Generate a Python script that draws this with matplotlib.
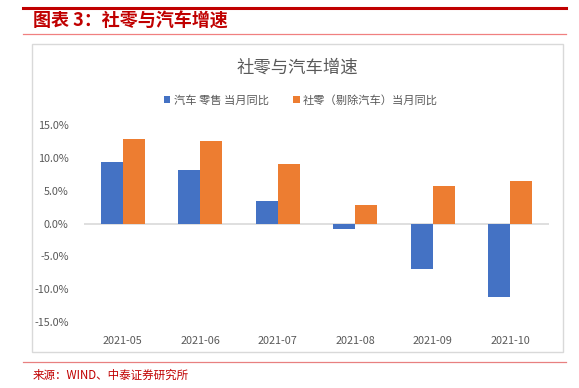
import matplotlib
matplotlib.use("Agg")
import matplotlib.pyplot as plt
from matplotlib.patches import Rectangle
from matplotlib.lines import Line2D
from matplotlib.ticker import FuncFormatter
import numpy as np

plt.rcParams['font.family'] = ['Noto Sans CJK SC', 'DejaVu Sans']

categories = ["2021-05", "2021-06", "2021-07", "2021-08", "2021-09", "2021-10"]
auto_retail = [9.4, 8.1, 3.4, -0.9, -6.9, -11.2]
retail_ex_auto = [12.8, 12.5, 9.0, 2.8, 5.7, 6.5]
series_names = ["汽车 零售 当月同比", "社零（剔除汽车）当月同比"]
yticks = [-15, -10, -5, 0, 5, 10, 15]

W, H = 579, 388
fig = plt.figure(figsize=(W / 100, H / 100), dpi=100)

def fx(px):
    return px / W

def fy(py):
    return 1 - py / H

red = "#C00000"
gray = "#595959"

# Header lines
fig.add_artist(Line2D([fx(23), fx(566)], [fy(8), fy(8)], color="#C00000", lw=2.2))
fig.add_artist(Line2D([fx(23), fx(566)], [fy(34), fy(34)], color="#F08080", lw=0.9))
fig.text(fx(33), fy(21), "图表 3：社零与汽车增速", color=red, fontsize=13,
         fontweight="bold", style="italic", va="center", ha="left")

# Footer
fig.add_artist(Line2D([fx(23), fx(566)], [fy(362), fy(362)], color="#E88080", lw=0.9))
fig.text(fx(33), fy(375), "来源：WIND、中泰证券研究所", color=red, fontsize=8.3,
         va="center", ha="left")

# Chart box
fig.add_artist(Rectangle((fx(32), fy(352)), fx(563) - fx(32), fy(44) - fy(352),
                         transform=fig.transFigure, fill=False, edgecolor="#D9D9D9", lw=1))

fig.text(fx(297), fy(68), "社零与汽车增速", color=gray, fontsize=12.5, ha="center", va="center")

ax = fig.add_axes([fx(84), fy(322), fx(549) - fx(84), fy(125) - fy(322)])
x = np.arange(len(categories))
w = 0.284
b1 = ax.bar(x - w / 2, auto_retail, w, color="#4472C4", label=series_names[0], zorder=3)
b2 = ax.bar(x + w / 2, retail_ex_auto, w, color="#ED7D31", label=series_names[1], zorder=3)
ax.axhline(0, color="#D9D9D9", lw=1.2, zorder=2)
ax.set_xlim(-0.5, len(categories) - 0.5)
ax.set_ylim(-15, 15)
ax.set_yticks(yticks)
ax.yaxis.set_major_formatter(FuncFormatter(lambda v, p: f"{v:.1f}%"))
ax.set_xticks(x)
ax.set_xticklabels(categories)
for s in ax.spines.values():
    s.set_visible(False)
ax.tick_params(axis="both", length=0, labelsize=7.8, colors=gray)
ax.tick_params(axis="x", pad=10)
ax.tick_params(axis="y", pad=11)
ax.set_facecolor("none")

leg = fig.legend(handles=[b1, b2], labels=series_names, loc="center",
                 bbox_to_anchor=(fx(301), fy(100)), ncol=2, frameon=False,
                 fontsize=8.1, handlelength=0.55, handleheight=0.55, handletextpad=0.3,
                 columnspacing=2.2, labelcolor=gray)

fig.savefig("out.png", dpi=100)
